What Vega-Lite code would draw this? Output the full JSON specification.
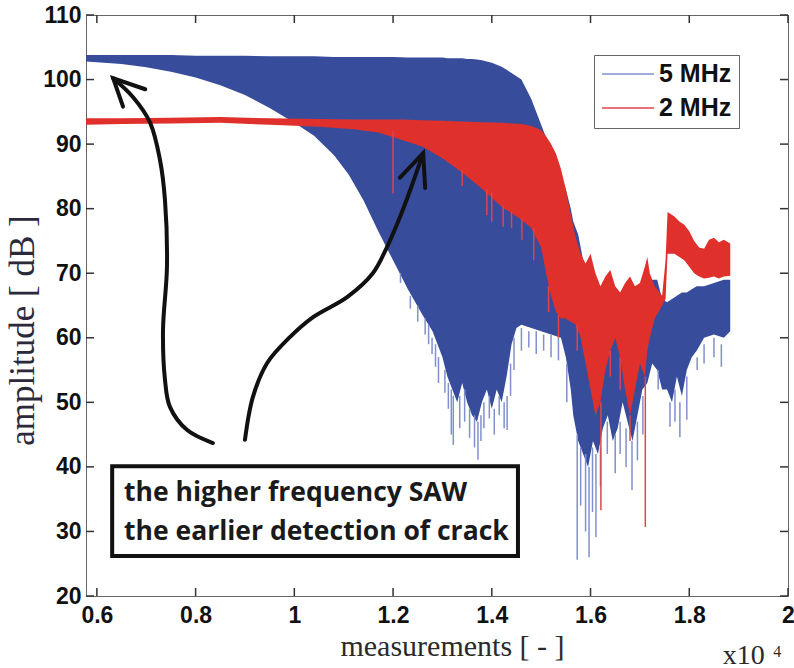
{
  "$schema": "https://vega.github.io/schema/vega-lite/v6.json",
  "width": 702,
  "height": 581,
  "autosize": "none",
  "padding": {"left": 86, "top": 15, "right": 6, "bottom": 72},
  "background": "white",
  "config": {"view": {"stroke": "#666", "strokeWidth": 1}},
  "datasets": {
    "blue": [
      {"x":0.578,"lo":102.8,"hi":103.8},{"x":0.60,"lo":102.7,"hi":103.8},{"x":0.65,"lo":102.4,"hi":103.8},
      {"x":0.70,"lo":101.9,"hi":103.8},{"x":0.75,"lo":101.2,"hi":103.8},{"x":0.80,"lo":100.3,"hi":103.7},
      {"x":0.85,"lo":99.1,"hi":103.7},{"x":0.90,"lo":97.6,"hi":103.7},{"x":0.95,"lo":95.6,"hi":103.6},
      {"x":1.00,"lo":93.3,"hi":103.6},{"x":1.04,"lo":91.3,"hi":103.6},{"x":1.08,"lo":88.3,"hi":103.5},
      {"x":1.11,"lo":85.3,"hi":103.5},{"x":1.14,"lo":81.3,"hi":103.5},{"x":1.17,"lo":76.5,"hi":103.5},
      {"x":1.20,"lo":72.0,"hi":103.5},{"x":1.23,"lo":67.5,"hi":103.4},{"x":1.26,"lo":63.5,"hi":103.4},
      {"x":1.28,"lo":61,"hi":103.4},{"x":1.29,"lo":59,"hi":103.4},{"x":1.30,"lo":57,"hi":103.4},
      {"x":1.31,"lo":54,"hi":103.3},{"x":1.32,"lo":52,"hi":103.3},{"x":1.33,"lo":50,"hi":103.3},
      {"x":1.34,"lo":53,"hi":103.3},{"x":1.35,"lo":50,"hi":103.2},{"x":1.36,"lo":48,"hi":103.2},
      {"x":1.37,"lo":47,"hi":103.1},{"x":1.38,"lo":50,"hi":103},{"x":1.39,"lo":52,"hi":102.8},
      {"x":1.40,"lo":49,"hi":102.6},{"x":1.41,"lo":52,"hi":102.3},{"x":1.42,"lo":50,"hi":102},
      {"x":1.43,"lo":54,"hi":101.5},{"x":1.44,"lo":59,"hi":101},{"x":1.45,"lo":61.5,"hi":100.5},
      {"x":1.46,"lo":62,"hi":100},{"x":1.48,"lo":61.5,"hi":97},{"x":1.50,"lo":61,"hi":93},
      {"x":1.52,"lo":60.5,"hi":89},{"x":1.54,"lo":60,"hi":85},{"x":1.55,"lo":57,"hi":83},
      {"x":1.56,"lo":52,"hi":80},{"x":1.565,"lo":48,"hi":78},{"x":1.575,"lo":44,"hi":76},
      {"x":1.585,"lo":42,"hi":72},{"x":1.595,"lo":40,"hi":68},{"x":1.605,"lo":44,"hi":67},
      {"x":1.615,"lo":42,"hi":67},{"x":1.625,"lo":46,"hi":67},{"x":1.635,"lo":48,"hi":67},
      {"x":1.645,"lo":44,"hi":67},{"x":1.655,"lo":46,"hi":67},{"x":1.665,"lo":50,"hi":67},
      {"x":1.675,"lo":47,"hi":68},{"x":1.685,"lo":44,"hi":68},{"x":1.695,"lo":48,"hi":68},
      {"x":1.705,"lo":52,"hi":68},{"x":1.715,"lo":53,"hi":68},{"x":1.725,"lo":56,"hi":69},
      {"x":1.735,"lo":55,"hi":69},{"x":1.745,"lo":52,"hi":66},{"x":1.755,"lo":52,"hi":65.5},
      {"x":1.765,"lo":50,"hi":66},{"x":1.775,"lo":54,"hi":66.5},{"x":1.785,"lo":51,"hi":67},
      {"x":1.795,"lo":55,"hi":67},{"x":1.805,"lo":57,"hi":67.5},{"x":1.815,"lo":58,"hi":68},
      {"x":1.83,"lo":60,"hi":68},{"x":1.85,"lo":60.5,"hi":68.5},{"x":1.87,"lo":60,"hi":69},
      {"x":1.883,"lo":61,"hi":69}
    ],
    "red": [
      {"x":0.578,"lo":93.0,"hi":94.0},{"x":0.65,"lo":93.1,"hi":94.0},{"x":0.75,"lo":93.2,"hi":94.1},
      {"x":0.85,"lo":93.3,"hi":94.2},{"x":0.95,"lo":93.0,"hi":94.0},{"x":1.05,"lo":92.7,"hi":93.9},
      {"x":1.12,"lo":92.3,"hi":93.8},{"x":1.17,"lo":91.8,"hi":93.8},{"x":1.22,"lo":90.6,"hi":93.8},
      {"x":1.26,"lo":89.6,"hi":93.7},{"x":1.30,"lo":87.8,"hi":93.6},{"x":1.34,"lo":85.6,"hi":93.5},
      {"x":1.38,"lo":83.1,"hi":93.4},{"x":1.42,"lo":80.3,"hi":93.3},{"x":1.46,"lo":78.3,"hi":93.1},
      {"x":1.48,"lo":77,"hi":92.8},{"x":1.50,"lo":74,"hi":92.2},{"x":1.51,"lo":70,"hi":91.2},
      {"x":1.52,"lo":66.5,"hi":90},{"x":1.53,"lo":64,"hi":88.5},{"x":1.54,"lo":63,"hi":86.2},
      {"x":1.55,"lo":63,"hi":83},{"x":1.56,"lo":62.5,"hi":79},{"x":1.57,"lo":62,"hi":75.5},
      {"x":1.58,"lo":60,"hi":73},{"x":1.59,"lo":56,"hi":71.5},{"x":1.60,"lo":52,"hi":73},
      {"x":1.61,"lo":48,"hi":70},{"x":1.62,"lo":50,"hi":68},{"x":1.63,"lo":55,"hi":69.5},
      {"x":1.64,"lo":58,"hi":70.5},{"x":1.65,"lo":60,"hi":68},{"x":1.66,"lo":57,"hi":67},
      {"x":1.67,"lo":52,"hi":68.5},{"x":1.68,"lo":48,"hi":69.5},{"x":1.69,"lo":52,"hi":68},
      {"x":1.70,"lo":56,"hi":68.5},{"x":1.71,"lo":54,"hi":71},{"x":1.715,"lo":58,"hi":72.5},
      {"x":1.72,"lo":60,"hi":70},{"x":1.73,"lo":63,"hi":68},{"x":1.745,"lo":65,"hi":66.5},
      {"x":1.752,"lo":66,"hi":72},{"x":1.756,"lo":73,"hi":79.5},{"x":1.77,"lo":73,"hi":78.8},
      {"x":1.78,"lo":72.5,"hi":78},{"x":1.79,"lo":72,"hi":77.5},{"x":1.80,"lo":71,"hi":76.5},
      {"x":1.81,"lo":70,"hi":75},{"x":1.82,"lo":69.5,"hi":74},{"x":1.83,"lo":69.2,"hi":73.8},
      {"x":1.84,"lo":69.3,"hi":75.2},{"x":1.85,"lo":69.5,"hi":75.5},{"x":1.86,"lo":69.2,"hi":74.8},
      {"x":1.87,"lo":69.5,"hi":75.2},{"x":1.883,"lo":69.6,"hi":74.6}
    ],
    "bspikes": [
      {"s":"5 MHz","x":1.215,"a":70,"b":68.5},{"s":"5 MHz","x":1.235,"a":66.5,"b":64.5},{"s":"5 MHz","x":1.25,"a":65,"b":62.5},
      {"s":"5 MHz","x":1.265,"a":63,"b":60.5},{"s":"5 MHz","x":1.272,"a":62,"b":59},
      {"s":"5 MHz","x":1.279,"a":60,"b":57.5},{"s":"5 MHz","x":1.286,"a":59,"b":55.5},{"s":"5 MHz","x":1.292,"a":57,"b":53},{"s":"5 MHz","x":1.305,"a":55,"b":51.5},
      {"s":"5 MHz","x":1.312,"a":53,"b":49},{"s":"5 MHz","x":1.318,"a":52,"b":45},{"s":"5 MHz","x":1.322,"a":51,"b":43.4},{"s":"5 MHz","x":1.335,"a":51,"b":46},
      {"s":"5 MHz","x":1.345,"a":52,"b":47},{"s":"5 MHz","x":1.355,"a":49,"b":44.5},{"s":"5 MHz","x":1.365,"a":48,"b":43},
      {"s":"5 MHz","x":1.372,"a":47,"b":41.1},{"s":"5 MHz","x":1.378,"a":48,"b":44},{"s":"5 MHz","x":1.384,"a":50,"b":46},{"s":"5 MHz","x":1.395,"a":51,"b":47.5},
      {"s":"5 MHz","x":1.405,"a":49,"b":45},{"s":"5 MHz","x":1.415,"a":51,"b":48},{"s":"5 MHz","x":1.425,"a":50,"b":46},
      {"s":"5 MHz","x":1.431,"a":51,"b":45.7},{"s":"5 MHz","x":1.438,"a":56,"b":51},{"s":"5 MHz","x":1.445,"a":60,"b":55},{"s":"5 MHz","x":1.46,"a":61.5,"b":58},
      {"s":"5 MHz","x":1.475,"a":61,"b":58.5},{"s":"5 MHz","x":1.49,"a":61,"b":57.5},{"s":"5 MHz","x":1.505,"a":60.5,"b":58},
      {"s":"5 MHz","x":1.52,"a":60.5,"b":57},{"s":"5 MHz","x":1.535,"a":60,"b":56.5},{"s":"5 MHz","x":1.552,"a":56,"b":50},
      {"s":"5 MHz","x":1.573,"a":45,"b":25.6},{"s":"5 MHz","x":1.58,"a":43,"b":34},{"s":"5 MHz","x":1.59,"a":42,"b":30},
      {"s":"5 MHz","x":1.597,"a":40,"b":26},{"s":"5 MHz","x":1.604,"a":43,"b":33},{"s":"5 MHz","x":1.611,"a":42,"b":29.1},
      {"s":"5 MHz","x":1.62,"a":43,"b":37},{"s":"5 MHz","x":1.634,"a":47,"b":42},{"s":"5 MHz","x":1.65,"a":45,"b":39},
      {"s":"5 MHz","x":1.66,"a":47,"b":42},{"s":"5 MHz","x":1.672,"a":46,"b":40},{"s":"5 MHz","x":1.684,"a":44,"b":36.4},
      {"s":"5 MHz","x":1.695,"a":47,"b":41},{"s":"5 MHz","x":1.706,"a":51,"b":45},{"s":"5 MHz","x":1.737,"a":55,"b":52},
      {"s":"5 MHz","x":1.761,"a":50,"b":46.2},{"s":"5 MHz","x":1.771,"a":52,"b":47},{"s":"5 MHz","x":1.781,"a":50,"b":44.6},
      {"s":"5 MHz","x":1.795,"a":54,"b":47.3},{"s":"5 MHz","x":1.816,"a":57,"b":55},{"s":"5 MHz","x":1.83,"a":59,"b":56},
      {"s":"5 MHz","x":1.85,"a":60,"b":57},{"s":"5 MHz","x":1.865,"a":59,"b":55.5}
    ],
    "rspikes": [
      {"s":"2 MHz","x":1.200,"a":92,"b":82.4},{"s":"2 MHz","x":1.340,"a":86,"b":83.5},{"s":"2 MHz","x":1.39,"a":83,"b":79},
      {"s":"2 MHz","x":1.40,"a":82.5,"b":78},{"s":"2 MHz","x":1.423,"a":80.5,"b":77.2},{"s":"2 MHz","x":1.44,"a":79.5,"b":77},
      {"s":"2 MHz","x":1.461,"a":78.5,"b":75.2},{"s":"2 MHz","x":1.485,"a":77,"b":72},{"s":"2 MHz","x":1.515,"a":68,"b":64},
      {"s":"2 MHz","x":1.535,"a":63.5,"b":60},{"s":"2 MHz","x":1.573,"a":62,"b":58},{"s":"2 MHz","x":1.621,"a":50,"b":33.3},
      {"s":"2 MHz","x":1.64,"a":58,"b":54},{"s":"2 MHz","x":1.66,"a":57,"b":52},{"s":"2 MHz","x":1.68,"a":48,"b":44},
      {"s":"2 MHz","x":1.711,"a":54,"b":30.7}
    ],
    "xticks": [{"v":0.6},{"v":0.8},{"v":1},{"v":1.2},{"v":1.4},{"v":1.6},{"v":1.8},{"v":2}],
    "yticks": [{"v":20},{"v":30},{"v":40},{"v":50},{"v":60},{"v":70},{"v":80},{"v":90},{"v":100},{"v":110}],
    "arrows": [
      {"id":"A","o":0,"x":0.835,"y":43.7},{"id":"A","o":1,"x":0.783,"y":45.7},{"id":"A","o":2,"x":0.748,"y":49.3},
      {"id":"A","o":3,"x":0.738,"y":53.5},{"id":"A","o":4,"x":0.734,"y":61.2},{"id":"A","o":5,"x":0.742,"y":71.0},
      {"id":"A","o":6,"x":0.738,"y":81.3},{"id":"A","o":7,"x":0.728,"y":87.5},{"id":"A","o":8,"x":0.708,"y":93.3},
      {"id":"A","o":9,"x":0.673,"y":97.3},{"id":"A","o":10,"x":0.633,"y":100.2},
      {"id":"B","o":0,"x":0.900,"y":44.2},{"id":"B","o":1,"x":0.916,"y":50.8},{"id":"B","o":2,"x":0.945,"y":56.1},
      {"id":"B","o":3,"x":0.991,"y":60.1},{"id":"B","o":4,"x":1.038,"y":63.2},{"id":"B","o":5,"x":1.107,"y":66.3},
      {"id":"B","o":6,"x":1.159,"y":70.0},{"id":"B","o":7,"x":1.188,"y":74.1},{"id":"B","o":8,"x":1.214,"y":78.7},
      {"id":"B","o":9,"x":1.240,"y":84.0},{"id":"B","o":10,"x":1.261,"y":88.6}
    ],
    "heads": [
      {"id":"Ah","o":0,"x":0.698,"y":98.5},{"id":"Ah","o":1,"x":0.633,"y":100.2},{"id":"Ah","o":2,"x":0.653,"y":95.8},
      {"id":"Bh","o":0,"x":1.214,"y":84.8},{"id":"Bh","o":1,"x":1.261,"y":88.6},{"id":"Bh","o":2,"x":1.265,"y":83.2}
    ],
    "box": [{"x1":0.631,"x2":1.453,"ya":40.1,"yb":26.2}],
    "boxtext": [
      {"x":0.655,"y":35.96,"t":"the higher frequency SAW"},
      {"x":0.655,"y":29.92,"t":"the earlier detection of crack"}
    ],
    "mult": [{"x":1.868,"y":9.5,"t":"x10"}],
    "expo": [{"x":1.97,"y":10.6,"t":"4"}]
  },
  "layer": [
    {
      "data": {"name": "blue"},
      "mark": {"type": "area", "color": "#384c9c", "opacity": 1},
      "encoding": {
        "x": {"field": "x", "type": "quantitative",
          "scale": {"domain": [0.578, 2], "nice": false, "zero": false},
          "axis": {"orient": "bottom", "values": [0.6,0.8,1,1.2,1.4,1.6,1.8,2], "format": "~g",
            "title": "measurements [ - ]", "titleFont": "Liberation Serif", "titleFontSize": 30,
            "titleFontWeight": "normal", "titleColor": "#2a2a2a", "titleX": 366, "titleY": 59,
            "titleBaseline": "alphabetic",
            "labelFont": "Liberation Sans", "labelFontSize": 23, "labelFontWeight": "bold",
            "labelColor": "#111", "labelPadding": 8, "labelFlush": false, "labelOverlap": false,
            "ticks": false, "domain": false, "grid": false}},
        "y": {"field": "lo", "type": "quantitative",
          "scale": {"domain": [20, 110], "nice": false, "zero": false},
          "axis": {"orient": "left", "values": [20,30,40,50,60,70,80,90,100,110],
            "title": "amplitude [ dB ]", "titleFont": "Liberation Serif", "titleFontSize": 35,
            "titleFontWeight": "normal", "titleColor": "#2a2a3a", "titleX": -53, "titleY": 315,
            "titleAngle": -90, "titleAlign": "center", "titleBaseline": "alphabetic",
            "labelFont": "Liberation Sans", "labelFontSize": 23, "labelFontWeight": "bold",
            "labelColor": "#111", "labelPadding": 5, "labelFlush": false, "labelOverlap": false,
            "ticks": false, "domain": false, "grid": false}},
        "y2": {"field": "hi"}
      }
    },
    {
      "data": {"name": "bspikes"},
      "mark": {"type": "rule", "strokeWidth": 1.5},
      "encoding": {
        "x": {"field": "x", "type": "quantitative"},
        "y": {"field": "a", "type": "quantitative"},
        "y2": {"field": "b"},
        "color": {"field": "s", "type": "nominal",
          "scale": {"domain": ["5 MHz", "2 MHz"], "range": ["#8090cc", "#e2434c"]},
          "legend": {"orient": "none", "legendX": 508, "legendY": 40, "title": null,
            "symbolType": "stroke", "symbolSize": 2704, "symbolStrokeWidth": 1.5,
            "labelFont": "Liberation Sans", "labelFontSize": 25, "labelFontWeight": "bold",
            "labelColor": "#111", "strokeColor": "#666", "fillColor": "white",
            "padding": 7, "rowPadding": 9, "clipHeight": 24, "labelOffset": 4}}
      }
    },
    {
      "data": {"name": "red"},
      "mark": {"type": "area", "color": "#e0302c", "opacity": 1},
      "encoding": {
        "x": {"field": "x", "type": "quantitative"},
        "y": {"field": "lo", "type": "quantitative"},
        "y2": {"field": "hi"}
      }
    },
    {
      "data": {"name": "rspikes"},
      "mark": {"type": "rule", "strokeWidth": 1.5},
      "encoding": {
        "x": {"field": "x", "type": "quantitative"},
        "y": {"field": "a", "type": "quantitative"},
        "y2": {"field": "b"},
        "color": {"field": "s", "type": "nominal",
          "scale": {"domain": ["5 MHz", "2 MHz"], "range": ["#8090cc", "#e2434c"]},
          "legend": {"orient": "none", "legendX": 508, "legendY": 40, "title": null,
            "symbolType": "stroke", "symbolSize": 2704, "symbolStrokeWidth": 1.5,
            "labelFont": "Liberation Sans", "labelFontSize": 25, "labelFontWeight": "bold",
            "labelColor": "#111", "strokeColor": "#666", "fillColor": "white",
            "padding": 7, "rowPadding": 9, "clipHeight": 24, "labelOffset": 4}}
      }
    },
    {
      "data": {"name": "xticks"},
      "mark": {"type": "rule", "color": "#333", "strokeWidth": 1.5},
      "encoding": {
        "x": {"field": "v", "type": "quantitative"},
        "y": {"datum": 20},
        "y2": {"datum": 21.25}
      }
    },
    {
      "data": {"name": "xticks"},
      "mark": {"type": "rule", "color": "#333", "strokeWidth": 1.5},
      "encoding": {
        "x": {"field": "v", "type": "quantitative"},
        "y": {"datum": 110},
        "y2": {"datum": 108.75}
      }
    },
    {
      "data": {"name": "yticks"},
      "mark": {"type": "rule", "color": "#333", "strokeWidth": 1.5},
      "encoding": {
        "y": {"field": "v", "type": "quantitative"},
        "x": {"datum": 0.578},
        "x2": {"datum": 0.5942}
      }
    },
    {
      "data": {"name": "yticks"},
      "mark": {"type": "rule", "color": "#333", "strokeWidth": 1.5},
      "encoding": {
        "y": {"field": "v", "type": "quantitative"},
        "x": {"datum": 2},
        "x2": {"datum": 1.9838}
      }
    },
    {
      "data": {"name": "arrows"},
      "mark": {"type": "line", "color": "#111", "strokeWidth": 4, "interpolate": "catmull-rom", "strokeCap": "round"},
      "encoding": {
        "x": {"field": "x", "type": "quantitative"},
        "y": {"field": "y", "type": "quantitative"},
        "detail": {"field": "id"},
        "order": {"field": "o"}
      }
    },
    {
      "data": {"name": "heads"},
      "mark": {"type": "line", "color": "#111", "strokeWidth": 4, "strokeCap": "round", "strokeJoin": "miter"},
      "encoding": {
        "x": {"field": "x", "type": "quantitative"},
        "y": {"field": "y", "type": "quantitative"},
        "detail": {"field": "id"},
        "order": {"field": "o"}
      }
    },
    {
      "data": {"name": "box"},
      "mark": {"type": "rect", "fill": "white", "stroke": "#111", "strokeWidth": 4},
      "encoding": {
        "x": {"field": "x1", "type": "quantitative"},
        "x2": {"field": "x2"},
        "y": {"field": "ya", "type": "quantitative"},
        "y2": {"field": "yb"}
      }
    },
    {
      "data": {"name": "boxtext"},
      "mark": {"type": "text", "align": "left", "baseline": "middle", "font": "Open Sans", "fontWeight": "bold", "fontSize": 26.5, "color": "#1a1a1a"},
      "encoding": {
        "x": {"field": "x", "type": "quantitative"},
        "y": {"field": "y", "type": "quantitative"},
        "text": {"field": "t"}
      }
    },
    {
      "data": {"name": "mult"},
      "mark": {"type": "text", "align": "left", "baseline": "alphabetic", "font": "Liberation Serif", "fontSize": 28, "color": "#2a2a2a"},
      "encoding": {
        "x": {"field": "x", "type": "quantitative"},
        "y": {"field": "y", "type": "quantitative"},
        "text": {"field": "t"}
      }
    },
    {
      "data": {"name": "expo"},
      "mark": {"type": "text", "align": "left", "baseline": "alphabetic", "font": "Liberation Serif", "fontSize": 16, "color": "#2a2a2a"},
      "encoding": {
        "x": {"field": "x", "type": "quantitative"},
        "y": {"field": "y", "type": "quantitative"},
        "text": {"field": "t"}
      }
    }
  ]
}
